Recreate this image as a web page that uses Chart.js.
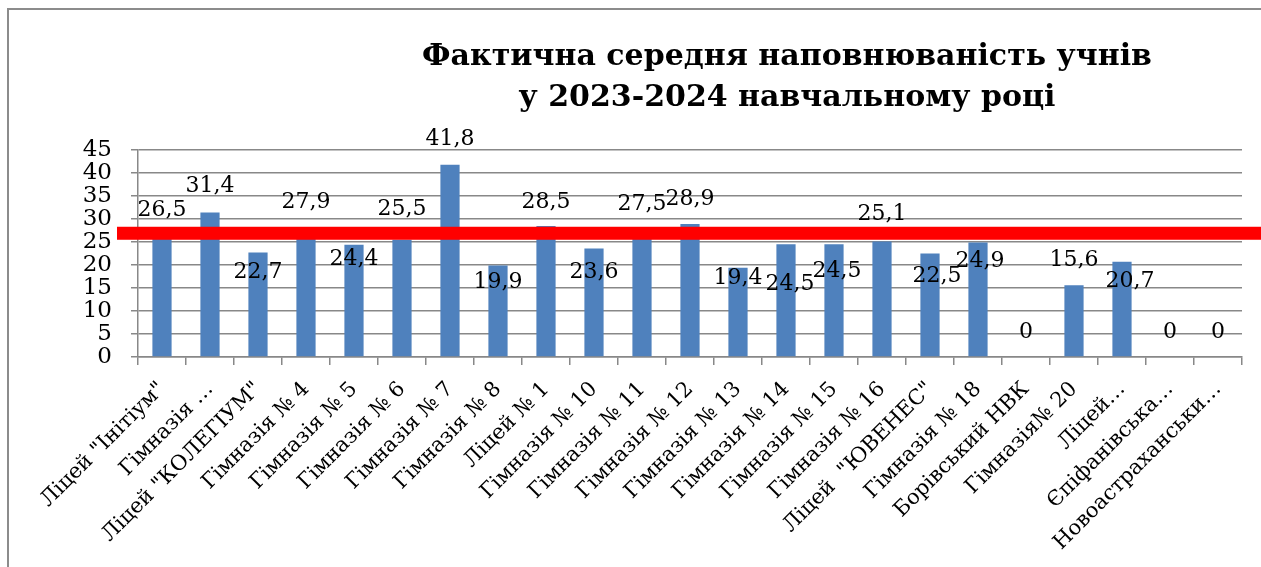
<!DOCTYPE html>
<html>
<head>
<meta charset="utf-8">
<script src="https://cdn.jsdelivr.net/npm/chart.js@4"></script>
<style>
  html, body { margin: 0; padding: 0; background: #fff; }
  #wrap { width: 1261px; height: 567px; position: relative; }
</style>
</head>
<body>
<div id="wrap"><canvas id="fillChart" width="1261" height="567"></canvas></div>
<script>
// chart data
const schools = [
    'Ліцей "Інітіум"', 'Гімназія …', 'Ліцей "КОЛЕГІУМ"', 'Гімназія № 4', 'Гімназія № 5',
    'Гімназія № 6', 'Гімназія № 7', 'Гімназія № 8', 'Ліцей № 1', 'Гімназія № 10',
    'Гімназія № 11', 'Гімназія № 12', 'Гімназія № 13', 'Гімназія № 14', 'Гімназія № 15',
    'Гімназія № 16', 'Ліцей  "ЮВЕНЕС"', 'Гімназія № 18', 'Борівський НВК', 'Гімназія№ 20',
    'Ліцей…', 'Єпіфанівська…', 'Новоастраханськи…'
];
const avgFill = [26.5, 31.4, 22.7, 27.9, 24.4, 25.5, 41.8, 19.9, 28.5, 23.6, 27.5, 28.9,
                 19.4, 24.5, 24.5, 25.1, 22.5, 24.9, 0, 15.6, 20.7, 0, 0];
const yTicks = [0, 5, 10, 15, 20, 25, 30, 35, 40, 45];
const titleLines = ['Фактична середня наповнюваність учнів', 'у 2023-2024 навчальному році'];
const redLineValue = 26.9;

// where each value label sits relative to its bar top (px), as in the original
const labelDy = [-25, -26, 20, -26, 15, -30, -25, 17, -24, 24, -26, -25, 11, 40, 27, -27, 23, 19, -25, -25, 20, -25, -25];
const labelDx = [0, 0, 0, 0, 0, 0, 0, 0, 0, 0, 0, 0, 0, 4, 3, 0, 7, 2, 0, 0, 8, 0, 0];

const serif = '"DejaVu Serif", serif';
const gridGray = '#888888';

const extras = {
    id: 'extras',
    afterDatasetsDraw(chart) {
        const ctx = chart.ctx;
        const area = chart.chartArea;
        const y = chart.scales.y.getPixelForValue(redLineValue);
        ctx.save();
        // red reference band
        ctx.fillStyle = '#ff0000';
        ctx.fillRect(area.left - 21, y - 6.5, chart.width - (area.left - 21), 13);
        // value labels
        ctx.fillStyle = '#000';
        ctx.font = '22px ' + serif;
        ctx.textAlign = 'center';
        ctx.textBaseline = 'middle';
        chart.getDatasetMeta(0).data.forEach(function(bar, i) {
            const txt = String(avgFill[i]).replace('.', ',');
            ctx.fillText(txt, bar.x + labelDx[i], bar.y + labelDy[i]);
        });
        // title
        ctx.font = 'bold 30px ' + serif;
        ctx.textBaseline = 'alphabetic';
        ctx.fillText(titleLines[0], 787, 65);
        ctx.fillText(titleLines[1], 787, 106);
        // frame
        ctx.strokeStyle = '#8c8c8c';
        ctx.lineWidth = 2;
        ctx.beginPath();
        ctx.moveTo(8, chart.height);
        ctx.lineTo(8, 9);
        ctx.lineTo(chart.width, 9);
        ctx.stroke();
        ctx.restore();
    }
};

new Chart(document.getElementById('fillChart').getContext('2d'), {
    type: 'bar',
    data: {
        labels: schools,
        datasets: [{
            data: avgFill,
            backgroundColor: '#4f81bd',
            borderWidth: 0,
            categoryPercentage: 1,
            barPercentage: 0.4
        }]
    },
    options: {
        responsive: false,
        animation: false,
        layout: { padding: { top: 150, right: 19, left: 0, bottom: 0 } },
        plugins: {
            legend: { display: false },
            title: { display: false },
            tooltip: { enabled: false }
        },
        scales: {
            y: {
                min: 0,
                max: 45,
                afterFit: function(scale) { scale.width = 138; },
                afterBuildTicks: function(scale) {
                    scale.ticks = yTicks.map(function(v) { return { value: v }; });
                },
                ticks: {
                    autoSkip: false,
                    color: '#000',
                    padding: 19,
                    font: { family: serif, size: 23 }
                },
                grid: { color: gridGray, lineWidth: 1.5, tickLength: 7 },
                border: { color: gridGray, width: 1.5 }
            },
            x: {
                afterFit: function(scale) { scale.height = 210; },
                ticks: {
                    color: '#000',
                    autoSkip: false,
                    minRotation: 45,
                    maxRotation: 45,
                    padding: 12,
                    font: { family: serif, size: 21 }
                },
                grid: { drawOnChartArea: false, color: gridGray, lineWidth: 1.5, tickLength: 8 },
                border: { color: gridGray, width: 1.5 }
            }
        }
    },
    plugins: [extras]
});
</script>
</body>
</html>
